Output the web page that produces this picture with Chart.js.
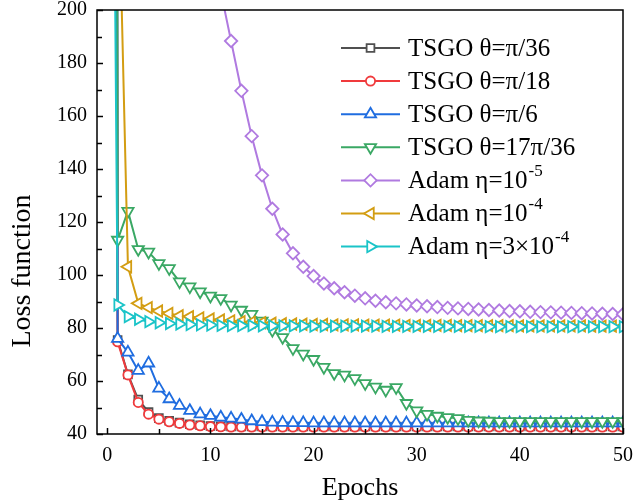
<!DOCTYPE html>
<html>
<head>
<meta charset="utf-8">
<script src="https://cdn.jsdelivr.net/npm/chart.js@4.4.1/dist/chart.umd.min.js"></script>
<style>
  html, body { margin: 0; padding: 0; background: #fff; }
  canvas { display: block; }
</style>
</head>
<body>
<canvas id="loss-chart" width="636" height="501"></canvas>
<script>
(function () {
  'use strict';

  // ── DATA ──────────────────────────────────────────────────────────────────
  // Epoch 0 values sit far above the visible range (only the steep entry line shows).

  var epochs = [0, 1, 2, 3, 4, 5, 6, 7, 8, 9, 10, 11, 12, 13, 14, 15, 16, 17, 18, 19, 20,
    21, 22, 23, 24, 25, 26, 27, 28, 29, 30, 31, 32, 33, 34, 35, 36, 37, 38, 39, 40,
    41, 42, 43, 44, 45, 46, 47, 48, 49, 50];

  var tsgoPi36 = [3000, 75.5, 62.5, 53.0, 48.3, 46.0, 45.0, 44.3, 43.7, 43.3, 43.0,
    42.9, 42.8, 42.8, 42.8, 42.8, 42.8, 42.8, 42.8, 42.8, 42.8,
    42.8, 42.8, 42.8, 42.8, 42.8, 42.8, 42.8, 42.8, 42.8, 42.8,
    42.8, 42.8, 42.8, 42.8, 42.8, 42.8, 42.8, 42.8, 42.8, 42.8,
    42.8, 42.8, 42.8, 42.8, 42.8, 42.8, 42.8, 42.8, 42.8, 42.8];

  var tsgoPi18 = [3000, 74.8, 62.3, 51.9, 47.5, 45.6, 44.6, 44.0, 43.4, 43.1, 42.8,
    42.7, 42.6, 42.6, 42.6, 42.6, 42.6, 42.6, 42.6, 42.6, 42.6,
    42.6, 42.6, 42.6, 42.6, 42.6, 42.6, 42.6, 42.6, 42.6, 42.6,
    42.6, 42.6, 42.6, 42.6, 42.6, 42.6, 42.6, 42.6, 42.6, 42.6,
    42.6, 42.6, 42.6, 42.6, 42.6, 42.6, 42.6, 42.6, 42.6, 42.6];

  var tsgoPi6 = [3000, 76.0, 70.8, 63.9, 66.7, 57.2, 53.2, 50.7, 48.8, 47.5, 46.9,
    46.3, 45.9, 45.5, 44.9, 44.6, 44.4, 44.3, 44.2, 44.2, 44.1,
    44.1, 44.1, 44.1, 44.1, 44.1, 44.1, 44.1, 44.1, 44.1, 44.1,
    44.1, 44.1, 44.1, 44.1, 44.1, 44.1, 44.1, 44.1, 44.1, 44.1,
    44.1, 44.1, 44.1, 44.1, 44.1, 44.1, 44.1, 44.1, 44.1, 44.1];

  var tsgo17Pi36 = [3000, 113.2, 124.1, 109.7, 108.7, 104.4, 102.5, 97.5, 95.6, 93.7, 92.1,
    91.2, 88.7, 86.8, 85.2, 82.7, 79.2, 76.5, 72.3, 70.2, 68.2,
    65.2, 62.9, 62.3, 61.0, 59.1, 57.8, 56.6, 57.6, 51.6, 48.8,
    47.5, 46.8, 46.3, 45.9, 45.2, 45.0, 44.9, 44.8, 44.8, 44.8,
    44.8, 44.8, 44.8, 44.8, 44.8, 44.8, 44.8, 44.8, 44.8, 44.8];

  var adam1e5 = [1200, 900, 720, 590, 490, 415, 355, 310, 272, 243, 222,
    207, 188.3, 169.5, 152.4, 137.6, 125.0, 115.3, 108.2, 103.1, 99.6,
    96.8, 95.0, 93.5, 92.2, 91.2, 90.3, 89.7, 89.3, 88.9, 88.5,
    88.2, 87.9, 87.6, 87.4, 87.2, 87.0, 86.8, 86.6, 86.4, 86.3,
    86.1, 86.0, 85.9, 85.8, 85.7, 85.6, 85.5, 85.4, 85.3, 85.2];

  var adam1e4 = [900, 265, 103.1, 89.3, 87.7, 86.4, 85.5, 84.6, 84.3, 83.8, 83.4,
    83.0, 82.7, 82.4, 82.2, 82.0, 81.8, 81.6, 81.5, 81.4, 81.3,
    81.3, 81.2, 81.2, 81.2, 81.1, 81.1, 81.1, 81.1, 81.0, 81.0,
    81.0, 81.0, 81.0, 80.9, 80.9, 80.9, 80.9, 80.9, 80.9, 80.8,
    80.8, 80.8, 80.8, 80.8, 80.8, 80.8, 80.7, 80.7, 80.7, 80.7];

  var adam3e4 = [570, 88.7, 84.3, 83.3, 82.4, 82.0, 81.7, 81.5, 81.3, 81.2, 81.1,
    81.0, 80.9, 80.9, 80.9, 80.8, 80.8, 80.8, 80.8, 80.8, 80.7,
    80.7, 80.7, 80.7, 80.7, 80.7, 80.7, 80.6, 80.6, 80.6, 80.6,
    80.6, 80.6, 80.6, 80.6, 80.6, 80.6, 80.5, 80.5, 80.5, 80.5,
    80.5, 80.5, 80.5, 80.5, 80.5, 80.5, 80.5, 80.5, 80.5, 80.5];

  // legend text: [main text, superscript]
  var seriesNames = [
    ['TSGO \u03b8=\u03c0/36', ''],
    ['TSGO \u03b8=\u03c0/18', ''],
    ['TSGO \u03b8=\u03c0/6', ''],
    ['TSGO \u03b8=17\u03c0/36', ''],
    ['Adam \u03b7=10', '-5'],
    ['Adam \u03b7=10', '-4'],
    ['Adam \u03b7=3\u00d710', '-4']
  ];
  var seriesValues = [tsgoPi36, tsgoPi18, tsgoPi6, tsgo17Pi36, adam1e5, adam1e4, adam3e4];

  var xTickValues = [0, 5, 10, 15, 20, 25, 30, 35, 40, 45, 50];
  var yTickValues = [40, 50, 60, 70, 80, 90, 100, 110, 120, 130, 140, 150, 160, 170, 180, 190, 200];
  var yTitle = 'Loss function';

  // ── STYLE ─────────────────────────────────────────────────────────────────

  var SERIF = "'Liberation Serif', 'Times New Roman', serif";
  var styles = [
    { color: '#505050', point: 'rect',     radius: 5.5, rot: 0 },
    { color: '#f03a3c', point: 'circle',   radius: 4.6, rot: 0 },
    { color: '#1f6de0', point: 'triangle', radius: 6.5, rot: 0 },
    { color: '#3aa864', point: 'triangle', radius: 6.5, rot: 180 },
    { color: '#b07ae0', point: 'rectRot',  radius: 6.2, rot: 0 },
    { color: '#d39d12', point: 'triangle', radius: 6.5, rot: 270 },
    { color: '#1ac4c8', point: 'triangle', radius: 6.5, rot: 90 }
  ];

  var datasets = seriesValues.map(function (vals, i) {
    var s = styles[i];
    return {
      label: seriesNames[i][0] + seriesNames[i][1],
      data: epochs.map(function (e, j) { return { x: e, y: vals[j] }; }),
      borderColor: s.color,
      borderWidth: 2,
      backgroundColor: '#ffffff',
      pointStyle: s.point,
      pointRadius: s.radius,
      pointRotation: s.rot,
      pointBorderColor: s.color,
      pointBackgroundColor: '#ffffff',
      pointBorderWidth: 1.8,
      tension: 0,
      order: seriesValues.length - i   // later series drawn on top
    };
  });

  // ── PLUGINS ───────────────────────────────────────────────────────────────

  // frame + inward tick marks + y title (sits below the axis middle, as in the original)
  var framePlugin = {
    id: 'frame',
    afterDraw: function (chart) {
      var ctx = chart.ctx;
      var a = chart.chartArea;
      var xs = chart.scales.x, ys = chart.scales.y;
      ctx.save();
      ctx.strokeStyle = '#000';
      ctx.lineWidth = 1.5;
      ctx.strokeRect(a.left, a.top, a.right - a.left, a.bottom - a.top);
      ctx.beginPath();
      xTickValues.forEach(function (v) {
        var px = Math.round(xs.getPixelForValue(v)) + 0.5;
        var len = v % 10 === 0 ? 6 : 5;
        ctx.moveTo(px, a.bottom);
        ctx.lineTo(px, a.bottom - len);
      });
      yTickValues.forEach(function (v) {
        var py = Math.round(ys.getPixelForValue(v)) + 0.5;
        var len = v % 20 === 0 ? 6 : 5;
        ctx.moveTo(a.left, py);
        ctx.lineTo(a.left + len, py);
      });
      ctx.stroke();

      ctx.translate(23, a.top + 261);
      ctx.rotate(-Math.PI / 2);
      ctx.fillStyle = '#000';
      ctx.font = '28px ' + SERIF;
      ctx.textAlign = 'center';
      ctx.textBaseline = 'middle';
      ctx.fillText(yTitle, 0, 0);
      ctx.restore();
    }
  };

  // line + marker legend with superscripts
  var legendPlugin = {
    id: 'lineLegend',
    afterDraw: function (chart) {
      var ctx = chart.ctx;
      var a = chart.chartArea;
      var x0 = a.left + 244, x1 = a.left + 303, tx = a.left + 311;
      var y0 = a.top + 38, dy = 33.1;
      ctx.save();
      seriesNames.forEach(function (name, i) {
        var s = styles[i];
        var y = y0 + i * dy;
        ctx.strokeStyle = s.color;
        ctx.lineWidth = 2;
        ctx.beginPath();
        ctx.moveTo(x0, y);
        ctx.lineTo(x1, y);
        ctx.stroke();
        ctx.fillStyle = '#fff';
        ctx.lineWidth = 1.8;
        Chart.helpers.drawPoint(ctx, {
          pointStyle: s.point, radius: s.radius, rotation: s.rot, borderWidth: 1.8
        }, (x0 + x1) / 2, y);
        ctx.fillStyle = '#000';
        ctx.textBaseline = 'middle';
        ctx.textAlign = 'left';
        ctx.font = '25px ' + SERIF;
        ctx.fillText(name[0], tx, y + 1);
        if (name[1]) {
          var w = ctx.measureText(name[0]).width;
          ctx.font = '17px ' + SERIF;
          ctx.fillText(name[1], tx + w + 1, y - 9);
        }
      });
      ctx.restore();
    }
  };

  // ── CHART ─────────────────────────────────────────────────────────────────

  new Chart(document.getElementById('loss-chart'), {
    type: 'line',
    data: { datasets: datasets },
    plugins: [framePlugin, legendPlugin],
    options: {
      responsive: false,
      devicePixelRatio: 1,
      animation: false,
      layout: { padding: 0 },
      plugins: {
        legend: { display: false },
        tooltip: { enabled: false }
      },
      scales: {
        x: {
          type: 'linear',
          min: -1,
          max: 50,
          afterBuildTicks: function (scale) {
            scale.ticks = xTickValues.map(function (v) { return { value: v }; });
          },
          afterFit: function (scale) {
            scale.height = 67;
            scale.paddingLeft = 0;
            scale.paddingRight = 13;
          },
          grid: { display: false, drawTicks: false },
          border: { display: false },
          ticks: {
            color: '#000',
            padding: 10,
            maxRotation: 0,
            autoSkip: false,
            font: { family: SERIF, size: 20 },
            callback: function (v) { return v % 10 === 0 ? v : ''; }
          },
          title: {
            display: true,
            text: 'Epochs',
            color: '#000',
            font: { family: SERIF, size: 26, lineHeight: 1 },
            padding: { top: 0, bottom: 0 }
          }
        },
        y: {
          min: 40,
          max: 200,
          afterBuildTicks: function (scale) {
            scale.ticks = yTickValues.map(function (v) { return { value: v }; });
          },
          afterFit: function (scale) {
            scale.width = 97;
            scale.paddingTop = 10;
            scale.paddingBottom = 0;
          },
          grid: { display: false, drawTicks: false },
          border: { display: false },
          ticks: {
            color: '#000',
            padding: 10,
            autoSkip: false,
            font: { family: SERIF, size: 20 },
            callback: function (v) { return v % 20 === 0 ? v : ''; }
          },
          title: { display: false }
        }
      }
    }
  });

}());
</script>
</body>
</html>
